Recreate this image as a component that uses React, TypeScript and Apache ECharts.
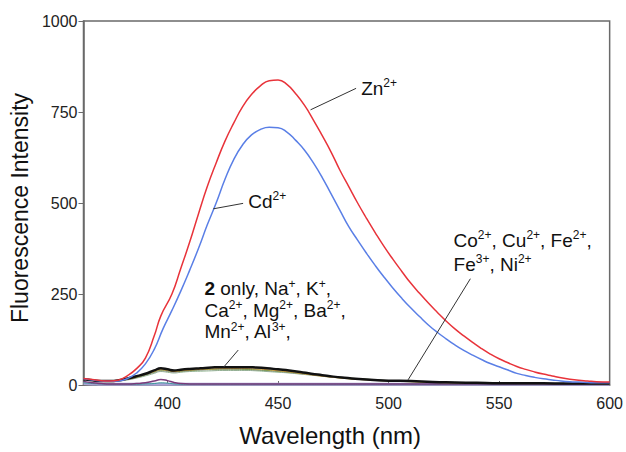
import React, { useEffect, useRef } from "react";
import * as echarts from "echarts";

// ---- data ----
const znWavelength = [362, 366, 370, 374, 378, 382, 386, 390, 394, 397, 402, 406, 410, 414, 418, 422, 426, 430, 434, 438, 442, 446, 450, 454, 458, 462, 466, 470, 474, 478, 482, 486, 490, 494, 498, 502, 506, 510, 514, 518, 522, 526, 530, 534, 538, 542, 546, 550, 554, 558, 562, 566, 570, 574, 578, 582, 586, 590, 594, 600];
const znIntensity = [18, 15, 12, 11, 14, 26, 45, 74, 135, 190, 250, 320, 392, 470, 545, 610, 670, 720, 765, 798, 822, 836, 838, 826, 800, 768, 728, 685, 640, 590, 545, 500, 458, 418, 380, 345, 312, 280, 252, 225, 200, 176, 154, 135, 117, 100, 85, 72, 61, 51, 43, 36, 30, 25, 20, 16, 13, 11, 9, 8];

const cdWavelength = [362, 366, 370, 374, 378, 382, 386, 390, 394, 398, 402, 406, 410, 414, 418, 422, 426, 430, 434, 438, 442, 446, 450, 454, 458, 462, 466, 470, 474, 478, 482, 486, 490, 494, 498, 502, 506, 510, 514, 518, 522, 526, 530, 534, 538, 542, 546, 550, 554, 558, 562, 566, 570, 574, 578, 582, 586, 590, 594, 600];
const cdIntensity = [17, 14, 11, 10, 11, 18, 33, 58, 98, 155, 205, 258, 315, 375, 440, 500, 565, 620, 660, 687, 702, 708, 707, 695, 672, 645, 610, 570, 525, 480, 435, 398, 362, 328, 296, 266, 238, 212, 188, 165, 145, 127, 110, 95, 82, 70, 59, 50, 41, 32, 26, 21, 17, 14, 11, 9, 8, 7, 6, 6];

const baseWavelength = [362, 366, 370, 374, 378, 382, 386, 390, 394, 397, 400, 403, 406, 410, 415, 420, 425, 430, 435, 440, 445, 450, 455, 460, 465, 470, 475, 480, 490, 500, 510, 520, 530, 540, 550, 560, 580, 600];
const onlyTwoIntensity = [16, 13, 11, 11, 13, 18, 24, 31, 40, 46, 43, 40, 42, 44, 46, 48, 49, 49, 49, 48, 46, 43, 40, 36, 31, 27, 23, 20, 15, 12, 11, 8, 7, 6, 5, 5, 4, 4];
const naIntensity = [17, 14, 11, 10, 12, 16, 22, 29, 37, 42, 40, 37, 39, 41, 43, 44, 45, 45, 45, 44, 42, 39, 36, 32, 28, 24, 21, 18, 14, 11, 9, 7, 6, 5, 5, 4, 4, 3];
const kIntensity = [18, 14, 11, 10, 12, 16, 21, 28, 36, 41, 39, 37, 38, 40, 42, 43, 44, 44, 43, 42, 40, 38, 35, 32, 29, 26, 23, 20, 16, 12, 10, 8, 7, 6, 5, 5, 4, 4];
const caIntensity = [17, 13, 10, 10, 11, 15, 20, 27, 34, 39, 37, 35, 37, 39, 41, 42, 42, 42, 42, 41, 39, 37, 34, 31, 28, 25, 22, 19, 15, 12, 10, 8, 7, 6, 5, 4, 4, 3];
const mnIntensity = [16, 13, 10, 9, 11, 14, 19, 25, 32, 37, 35, 33, 35, 37, 38, 39, 40, 40, 40, 39, 37, 35, 33, 30, 27, 24, 21, 18, 14, 11, 9, 7, 6, 5, 5, 4, 4, 3];
const coIntensity = [10, 6, 4, 3, 3, 3, 4, 6, 11, 15, 12, 7, 4, 3, 3, 3, 3, 3, 3, 3, 3, 3, 3, 3, 3, 3, 3, 3, 3, 3, 3, 3, 3, 3, 3, 3, 2, 2];
const cuIntensity = [6, 4, 3, 2, 2, 2, 2, 3, 4, 6, 5, 3, 2, 2, 2, 2, 2, 2, 2, 2, 2, 2, 2, 2, 2, 2, 2, 2, 2, 2, 2, 2, 2, 2, 2, 2, 2, 2];
const feIntensity = [4, 3, 2, 2, 2, 2, 2, 2, 2, 2, 2, 2, 2, 2, 2, 2, 2, 2, 2, 2, 2, 2, 2, 2, 2, 2, 2, 2, 2, 2, 2, 2, 2, 2, 2, 2, 2, 2];

const xTickValues = [400, 450, 500, 550, 600];
const yTicks = { min: 0, max: 1000, interval: 250 };
const xRange = { min: 362, max: 600 };

// annotation anchors in data coordinates: [wavelength, intensity]
const annotations = [
  { text: "Zn{s|2+}", textAt: [487.6, 815], lineFrom: [464.7, 756], lineTo: [485.3, 815], lineHeight: 22 },
  { text: "Cd{s|2+}", textAt: [436.5, 505], lineFrom: [420.7, 484], lineTo: [434.2, 499], lineHeight: 22 },
  {
    text: "{b|2} only, Na{s|+}, K{s|+},\nCa{s|2+}, Mg{s|2+}, Ba{s|2+},\nMn{s|2+}, Al{s|3+},",
    textAt: [416.7, 265], lineFrom: [432, 96], lineTo: [425.4, 49], lineHeight: 21.7,
  },
  {
    text: "Co{s|2+}, Cu{s|2+}, Fe{s|2+},\nFe{s|3+}, Ni{s|2+}",
    textAt: [529.4, 396], lineFrom: [537, 292], lineTo: [508.8, 14], lineHeight: 23.4,
  },
];

const FONT = "'Liberation Sans', Arial, Helvetica, sans-serif";

function zip(xs: number[], ys: number[]) {
  return xs.map((x, i) => [x, ys[i]]);
}

function lineSeries(name: string, xs: number[], ys: number[], color: string, width: number) {
  return {
    name,
    type: "line",
    data: zip(xs, ys),
    showSymbol: false,
    smooth: true,
    lineStyle: { color, width },
    itemStyle: { color },
    z: 2,
  };
}

export default function App() {
  const ref = useRef<HTMLDivElement>(null);
  useEffect(() => {
    if (!ref.current) return;
    const chart = echarts.init(ref.current, undefined, { renderer: "svg" });
    const option: any = {
      animation: false,
      backgroundColor: "#ffffff",
      grid: { left: 82, right: 14, top: 21, bottom: 62, show: true, borderColor: "#6a6a6a", borderWidth: 1.5, backgroundColor: "transparent" },
      xAxis: {
        type: "value",
        min: xRange.min,
        max: xRange.max,
        name: "Wavelength (nm)",
        nameLocation: "middle",
        nameGap: 38,
        nameTextStyle: { fontSize: 24, color: "#111", fontFamily: FONT, padding: [0, 33, 0, 0] },
        axisLine: { show: true, lineStyle: { color: "#6a6a6a", width: 1.5 } },
        axisTick: { show: true, inside: true, length: 4, customValues: xTickValues, lineStyle: { color: "#6a6a6a" } },
        axisLabel: { customValues: xTickValues, fontSize: 16, color: "#222", fontFamily: FONT, margin: 10 },
        splitLine: { show: false },
      },
      yAxis: {
        type: "value",
        min: yTicks.min,
        max: yTicks.max,
        interval: yTicks.interval,
        name: "Fluorescence Intensity",
        nameLocation: "middle",
        nameGap: 46,
        nameTextStyle: { fontSize: 23, color: "#111", fontFamily: FONT, padding: [0, 10, 0, 0] },
        axisLine: { show: true, lineStyle: { color: "#6a6a6a", width: 1.5 } },
        axisTick: { show: true, inside: false, length: 5, lineStyle: { color: "#6a6a6a" } },
        axisLabel: { fontSize: 16, color: "#222", fontFamily: FONT, margin: 6, formatter: (v: number) => String(v) },
        splitLine: { show: false },
      },
      series: [
        lineSeries("Fe", baseWavelength, feIntensity, "#a9a3d6", 3),
        lineSeries("Cu", baseWavelength, cuIntensity, "#3a9a9a", 1),
        lineSeries("Co", baseWavelength, coIntensity, "#7a3a7a", 1.5),
        lineSeries("Mn", baseWavelength, mnIntensity, "#8fb38f", 1),
        lineSeries("Ca", baseWavelength, caIntensity, "#9a9a9a", 1),
        lineSeries("K", baseWavelength, kIntensity, "#6f9a4f", 1),
        lineSeries("Na", baseWavelength, naIntensity, "#d29a3a", 1),
        lineSeries("2 only", baseWavelength, onlyTwoIntensity, "#111111", 2.5),
        lineSeries("Cd", cdWavelength, cdIntensity, "#5a7fe6", 1.5),
        lineSeries("Zn", znWavelength, znIntensity, "#e8333a", 1.5),
      ],
    };
    chart.setOption(option);

    const px = (p: number[]) => chart.convertToPixel({ gridIndex: 0 }, p) as number[];
    const rich = {
      s: { fontSize: 12, fontFamily: FONT, fill: "#111", lineHeight: 16, verticalAlign: "top" },
      b: { fontSize: 19, fontFamily: FONT, fontWeight: "bold", fill: "#111" },
    };
    const graphic: any[] = [];
    annotations.forEach((a) => {
      const f = px(a.lineFrom);
      const t = px(a.lineTo);
      const tp = px(a.textAt);
      graphic.push({
        type: "line",
        shape: { x1: f[0], y1: f[1], x2: t[0], y2: t[1] },
        style: { stroke: "#333", lineWidth: 1 },
        z: 10,
      });
      graphic.push({
        type: "text",
        x: tp[0],
        y: tp[1] - a.lineHeight / 2,
        style: {
          text: a.text,
          rich: Object.fromEntries(Object.entries(rich).map(([k, v]) => [k, { ...v }])),
          fontSize: 19,
          fontFamily: FONT,
          fill: "#111",
          lineHeight: a.lineHeight,
          textAlign: "left",
          verticalAlign: "top",
        },
        z: 10,
      });
    });
    chart.setOption({ graphic });

    return () => chart.dispose();
  }, []);
  return <div ref={ref} style={{ width: 626, height: 452, position: "absolute", left: 0, top: 0 }} />;
}
